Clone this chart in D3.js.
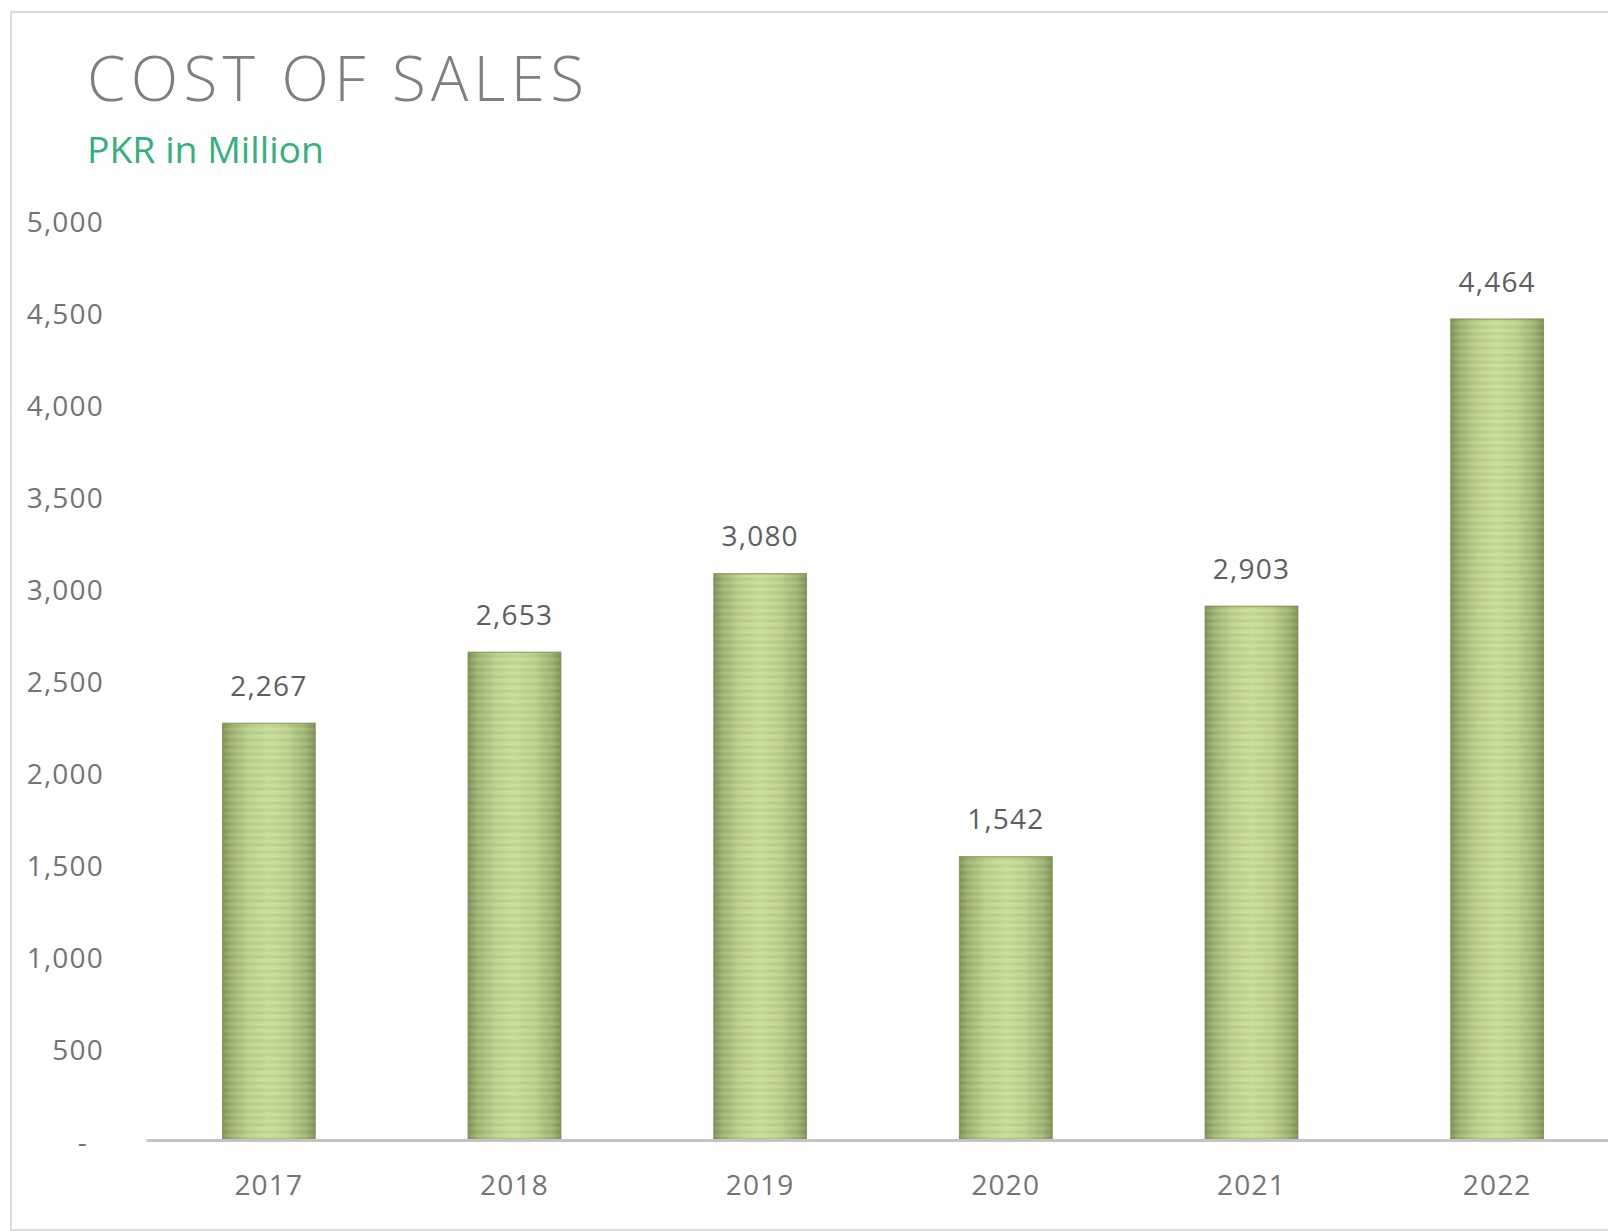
<!DOCTYPE html>
<html>
<head>
<meta charset="utf-8">
<script src="https://cdn.jsdelivr.net/npm/d3@7"></script>
<style>
  html, body { margin: 0; padding: 0; background: #ffffff; }
  svg { display: block; }
</style>
</head>
<body>
<svg id="chart" width="1608" height="1231"></svg>
<script>
const years = ["2017", "2018", "2019", "2020", "2021", "2022"];
const costOfSales = [2267, 2653, 3080, 1542, 2903, 4464];
const yTicks = [0, 500, 1000, 1500, 2000, 2500, 3000, 3500, 4000, 4500, 5000];
const titleText = "COST OF SALES";
const subtitleText = "PKR in Million";

const svg = d3.select("#chart");
const W = 1608, H = 1231;

// frame
svg.append("rect").attr("x", 11).attr("y", 12).attr("width", W + 20).attr("height", H - 13)
  .attr("fill", "#ffffff").attr("stroke", "#dcdcdc").attr("stroke-width", 2);

// gradients / pattern
const defs = svg.append("defs");
const g1 = defs.append("linearGradient").attr("id", "barGrad").attr("x1", "0").attr("x2", "1").attr("y1", "0").attr("y2", "0");
[[0, "#7c9054"], [0.1, "#9cb272"], [0.3, "#bad18c"], [0.5, "#c4db97"], [0.7, "#bad18c"], [0.9, "#9cb272"], [1, "#7c9054"]]
  .forEach(([o, c]) => g1.append("stop").attr("offset", o).attr("stop-color", c));
const pat = defs.append("pattern").attr("id", "stripes").attr("patternUnits", "userSpaceOnUse")
  .attr("width", 10).attr("height", 7);
pat.append("rect").attr("x", 0).attr("y", 0).attr("width", 10).attr("height", 3).attr("fill", "#ffffff").attr("opacity", 0.09);
pat.append("rect").attr("x", 0).attr("y", 4).attr("width", 10).attr("height", 2).attr("fill", "#5d7030").attr("opacity", 0.05);

// title
svg.append("text").attr("x", 87).attr("y", 101)
  .attr("font-family", "'Open Sans', sans-serif").attr("font-weight", 300)
  .attr("font-size", 62).attr("fill", "#7f7f7f")
  .attr("textLength", 497).attr("lengthAdjust", "spacing")
  .text(titleText);
svg.append("text").attr("x", 87).attr("y", 163)
  .attr("font-family", "'Open Sans', sans-serif")
  .attr("font-size", 37).attr("fill", "#33b07c")
  .attr("textLength", 237).attr("lengthAdjust", "spacingAndGlyphs")
  .text(subtitleText);

// scales
const x = d3.scaleBand().domain(years).range([146, 1620]).paddingInner(0.62).paddingOuter(0.31);
const y = d3.scaleLinear().domain([0, 5000]).range([1140, 220]);

// y axis (labels only)
const yAxis = d3.axisLeft(y).tickValues(yTicks).tickSize(0).tickPadding(0)
  .tickFormat(d => d === 0 ? "-" : d3.format(",")(d));
const yg = svg.append("g").attr("transform", "translate(104,2)").call(yAxis);
yg.select(".domain").remove();
yg.selectAll("text").attr("font-family", "'Open Sans', sans-serif").attr("font-size", 28)
  .attr("fill", "#747474").attr("letter-spacing", 1.2).attr("dy", "0.35em")
  .attr("dx", d => d === 0 ? -16 : 0);

// bars
const bars = svg.append("g");
bars.selectAll("rect.bar").data(costOfSales).join("rect").attr("class", "bar")
  .attr("x", (d, i) => x(years[i])).attr("width", x.bandwidth())
  .attr("y", d => y(d)).attr("height", d => y(0) - y(d))
  .attr("fill", "url(#barGrad)");
bars.selectAll("rect.stripe").data(costOfSales).join("rect").attr("class", "stripe")
  .attr("x", (d, i) => x(years[i])).attr("width", x.bandwidth())
  .attr("y", d => y(d)).attr("height", d => y(0) - y(d))
  .attr("fill", "url(#stripes)");
bars.selectAll("rect.edge").data(costOfSales).join("rect").attr("class", "edge")
  .attr("x", (d, i) => x(years[i]) + 0.5).attr("width", x.bandwidth() - 1)
  .attr("y", d => y(d) + 0.5).attr("height", d => y(0) - y(d) - 1)
  .attr("fill", "none").attr("stroke", "#7d9252").attr("stroke-width", 1.5).attr("opacity", 0.6);

// x axis
const xAxis = d3.axisBottom(x).tickSize(0).tickPadding(0);
const xg = svg.append("g").attr("transform", `translate(0,${y(0)})`).call(xAxis);
xg.select(".domain").attr("stroke", "#c3c3c3").attr("stroke-width", 3);
xg.selectAll("text").attr("font-family", "'Open Sans', sans-serif").attr("font-size", 28)
  .attr("fill", "#747474").attr("letter-spacing", 1.2).attr("dy", 0).attr("y", 55);

// data labels
svg.append("g").selectAll("text").data(costOfSales).join("text")
  .attr("x", (d, i) => x(years[i]) + x.bandwidth() / 2)
  .attr("y", d => y(d) - 27)
  .attr("text-anchor", "middle")
  .attr("font-family", "'Open Sans', sans-serif").attr("font-size", 28)
  .attr("fill", "#5e5e5e").attr("letter-spacing", 1.2)
  .text(d => d3.format(",")(d));
</script>
</body>
</html>
